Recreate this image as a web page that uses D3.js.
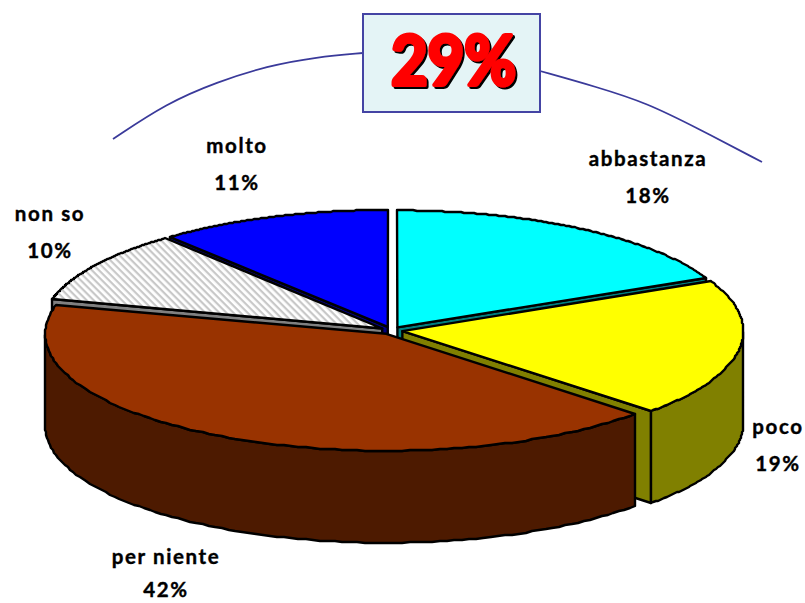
<!DOCTYPE html>
<html><head><meta charset="utf-8">
<script src="https://cdn.jsdelivr.net/npm/d3@7"></script>
<style>html,body{margin:0;padding:0;background:#fff}svg{display:block}</style>
</head><body><svg id="c" width="805" height="603"></svg>
<script>
const categories = ["abbastanza","poco","per niente","non so","molto"];
const pieShares = [18,19,42,10,11];
const labelValues = ["18%","19%","42%","10%","11%"];
const topColors = ["#00ffff","#ffff00","#993300","url(#hatch)","#0000ff"];
const sideColors = ["#008080","#808000","#4d1a00","#808080","#000080"];
const paintOrder = [4,0,3,1,2];
const headline = "29%";
const arcLeft = [[113,139],[167,103],[217,82],[267,66],[317,57],[363,53]];
const arcRight = [[540,71],[597,87],[647,103],[697,128],[762,162]];

const svg = d3.select("#c");
const cx=391.5, cy=330.5, rx=341, ry=117, depth=92, explode=11, tilt=0.34;
const X=d3.scaleLinear().domain([-1,1]).range([-rx,rx]);
const Y=d3.scaleLinear().domain([-1,1]).range([-ry,ry]);
const arcs=d3.pie().sort(null)(pieShares);
const defs=svg.append("defs");
const pat=defs.append("pattern").attr("id","hatch").attr("patternUnits","userSpaceOnUse")
  .attr("width",5).attr("height",5).attr("patternTransform","rotate(45)");
pat.append("rect").attr("width",5).attr("height",5).attr("fill","#fff");
pat.append("rect").attr("width",5).attr("height",2.2).attr("fill","#c8c8c8");
const shadow=defs.append("filter").attr("id","hard").attr("x","-10%").attr("y","-10%").attr("width","120%").attr("height","120%");
shadow.append("feDropShadow").attr("dx",2).attr("dy",2).attr("stdDeviation",0.3).attr("flood-color","#000").attr("flood-opacity",1);
const line=d3.line().x(d=>d[0]).y(d=>d[1]);

// navy arc, behind the box
const arcLine=d3.line().curve(d3.curveBasis);
[arcLeft,arcRight].forEach(p=>svg.append("path").attr("d",arcLine(p)).attr("fill","none").attr("stroke","#3a3a9a").attr("stroke-width",1.8));

const pie=svg.append("g");
paintOrder.forEach(i=>{
  const a=arcs[i], mid=(a.startAngle+a.endAngle)/2;
  const ox=cx+explode*Math.sin(mid), oy=cy-explode*tilt*Math.cos(mid);
  const P=(t,dz=0)=>[Math.round(ox+X(Math.sin(t))),Math.round(oy+Y(-Math.cos(t))+dz)];
  const apex=[ox,oy], rimPts=d3.range(0,121).map(k=>a.startAngle+(a.endAngle-a.startAngle)*k/120);
  const g=pie.append("g").attr("stroke","#000").attr("stroke-width",2.4).attr("stroke-linejoin","round");
  const side=sideColors[i];
  // cut walls: only those facing the viewer
  [[a.startAngle,Math.sin(a.startAngle)<-1e-6],[a.endAngle,Math.sin(a.endAngle)>1e-6]].forEach(([t,show])=>{
    if(!show) return;
    const q=[apex,P(t),P(t,depth),[apex[0],apex[1]+depth]];
    g.append("path").attr("d",line(q)+"Z").attr("fill",side);
  });
  // outer wall: front half only
  const front=rimPts.filter(t=>Math.cos(t)<=0.0);
  if(front.length>1){
    const q=front.map(t=>P(t)).concat(front.slice().reverse().map(t=>P(t,depth)));
    g.append("path").attr("d",line(q)+"Z").attr("fill",side);
  }
  // top
  const top=[apex].concat(rimPts.map(t=>P(t)));
  g.append("path").attr("d",line(top)+"Z").attr("fill",topColors[i]);
});

// labels
const labelAnchors=[[648,159],[778,427],[166,557],[50,214],[237,146]];
const lab=svg.append("g").attr("font-family","'Comic Sans MS','Lato','Open Sans',sans-serif").attr("font-weight",700).attr("font-size",20.5).attr("text-anchor","middle").attr("fill","#000").attr("stroke","#000").attr("stroke-width",0.4);
categories.forEach((c,i)=>{
  lab.append("text").attr("x",labelAnchors[i][0]).attr("y",labelAnchors[i][1]+7).attr("letter-spacing",1.6).text(c);
  lab.append("text").attr("x",labelAnchors[i][0]).attr("y",Math.min(labelAnchors[i][1]+44,597)).attr("letter-spacing",1.6).text(labelValues[i]);
});

// headline box
svg.append("rect").attr("x",363).attr("y",14).attr("width",177).attr("height",98).attr("fill","#e4f4f6").attr("stroke","#4444a4").attr("stroke-width",2);
svg.append("text").attr("font-family","'Lato','Open Sans',sans-serif").attr("font-weight",700).attr("font-size",68).attr("text-anchor","middle").attr("stroke-linejoin","round").attr("stroke-width",4)
  .attr("x",453.5).attr("y",85).attr("textLength",125).attr("lengthAdjust","spacingAndGlyphs").attr("fill","#ff0000").attr("stroke","#ff0000").attr("filter","url(#hard)").text(headline);
</script></body></html>
